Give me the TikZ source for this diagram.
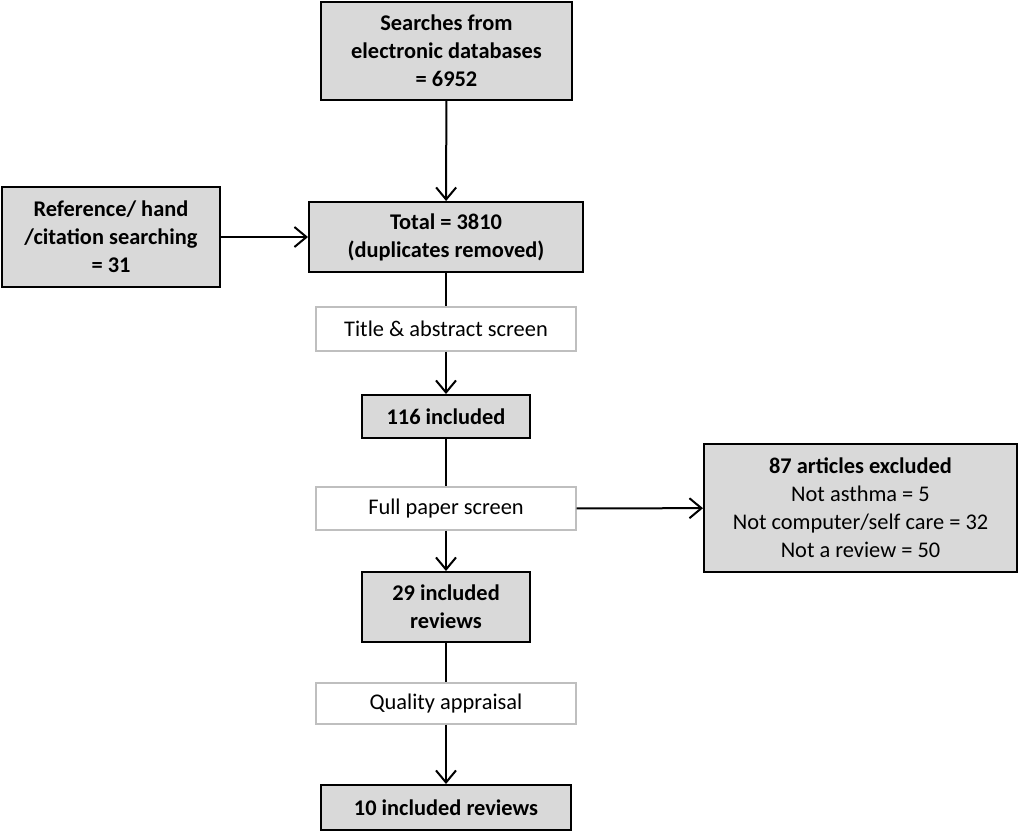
\documentclass[tikz,border=0pt]{standalone}
\usepackage{fontspec}
\setmainfont{Carlito}
\usetikzlibrary{arrows.meta}
\definecolor{boxgray}{HTML}{D9D9D9}
\definecolor{linegray}{HTML}{BFBFBF}
\begin{document}
\begin{tikzpicture}[x=0.5pt,y=-0.5pt]
\tikzset{every node/.style={inner sep=0pt,align=center,font=\fontsize{11.2}{14}\selectfont}}
\tikzset{stage/.style={draw=black,line width=1pt,fill=boxgray,font=\fontsize{11.2}{14}\selectfont\bfseries}}
\tikzset{screen/.style={draw=linegray,line width=0.6pt,fill=white,minimum width=130pt}}
\tikzset{flow/.style={line width=1pt,-{Straight Barb[length=6pt,width=10pt,line width=1pt]}}}
\useasboundingbox (0,0) rectangle (1019,832);
\node [stage,minimum width=125.5pt,minimum height=49pt] (search) at (446.5,51) {Searches from\\electronic databases\\= 6952};
\node [stage,minimum width=137pt,minimum height=35pt] (total) at (446,237) {Total = 3810\\(duplicates removed)};
\node [stage,minimum width=109pt,minimum height=50pt] (hand) at (111,237) {Reference/ hand\\/citation searching\\= 31};
\node [screen,minimum height=22pt] (title) at (446,329) {Title \& abstract screen};
\node [stage,minimum width=84pt,minimum height=21.5pt] (inc116) at (446,416.5) {116 included};
\node [screen,minimum height=21.5pt] (full) at (446,508.5) {Full paper screen};
\node [stage,minimum width=156.5pt,minimum height=64pt] (excl) at (860.5,508) {87 articles excluded\\\mdseries Not asthma = 5\\\mdseries Not computer/self care = 32\\\mdseries Not a review = 50};
\node [stage,minimum width=84pt,minimum height=35pt] (inc29) at (446,607) {29 included\\reviews};
\node [screen,minimum height=20.5pt] (qual) at (446,703.5) {Quality appraisal};
\node [stage,minimum width=125pt,minimum height=22.5pt] (inc10) at (446,807.5) {10 included reviews};
% connectors
\draw [flow] (search) -- (total);
\draw [flow] (hand) -- (total);
\draw [line width=1pt] (total) -- (title);
\draw [flow] (title) -- (inc116);
\draw [line width=1pt] (inc116) -- (full);
\draw [flow] (full) -- (inc29);
\draw [flow] (full) -- (excl);
\draw [line width=1pt] (inc29) -- (qual);
\draw [flow] (qual) -- (inc10);
\end{tikzpicture}
\end{document}
